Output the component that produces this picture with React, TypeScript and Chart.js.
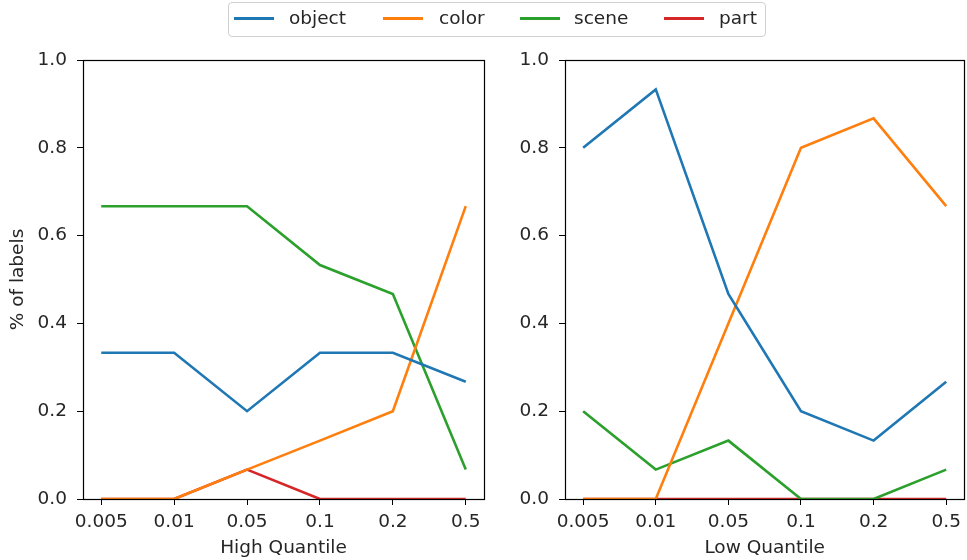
import React, { useEffect, useRef } from 'react';
import { Chart, registerables } from 'chart.js';

Chart.register(...registerables);

const quantiles = ['0.005', '0.01', '0.05', '0.1', '0.2', '0.5'];
const seriesNames = ['object', 'color', 'scene', 'part'];
const seriesColors = ['#1f77b4', '#ff7f0e', '#2ca02c', '#d62728'];

const highObject = [0.333, 0.333, 0.2, 0.333, 0.333, 0.267];
const highColor = [0, 0, 0.067, 0.133, 0.2, 0.667];
const highScene = [0.667, 0.667, 0.667, 0.533, 0.467, 0.067];
const highPart = [0, 0, 0.067, 0, 0, 0];

const lowObject = [0.8, 0.933, 0.467, 0.2, 0.133, 0.267];
const lowColor = [0, 0, 0.4, 0.8, 0.867, 0.667];
const lowScene = [0.2, 0.067, 0.133, 0, 0, 0.067];
const lowPart = [0, 0, 0, 0, 0, 0];

const yTickValues = [0, 0.2, 0.4, 0.6, 0.8, 1.0];

const FONT = 'DejaVu Sans';
const FS = 18.5;
const TEXT = '#262626';

const framePlugin = {
  id: 'frame',
  afterDatasetsDraw(chart: any) {
    const { ctx, chartArea } = chart;
    const { left, top, right, bottom } = chartArea;
    ctx.save();
    ctx.strokeStyle = '#000';
    ctx.lineWidth = 1.2;
    ctx.strokeRect(Math.round(left) + 0.5, Math.round(top) + 0.5, Math.round(right - left), Math.round(bottom - top));
    ctx.restore();
  },
};

function makeConfig(series: number[][], xTitle: string, yTitle: string | null, yWidth: number, padRight: number) {
  return {
    type: 'line' as const,
    data: {
      datasets: series.map((vals, si) => ({
        label: seriesNames[si],
        data: vals.map((v, i) => ({ x: i, y: v })),
        borderColor: seriesColors[si],
        backgroundColor: seriesColors[si],
        borderWidth: 2.6,
        pointRadius: 0,
        tension: 0,
        fill: false,
      })),
    },
    options: {
      responsive: false,
      animation: false as const,
      layout: { padding: { left: 0, right: padRight, top: 60, bottom: 0 } },
      plugins: { legend: { display: false }, tooltip: { enabled: false } },
      scales: {
        x: {
          type: 'linear' as const,
          min: -0.25,
          max: 5.25,
          afterBuildTicks: (scale: any) => {
            scale.ticks = quantiles.map((_, i) => ({ value: i }));
          },
          afterFit: (scale: any) => {
            scale.height = 61;
          },
          ticks: {
            autoSkip: false,
            maxRotation: 0,
            padding: 6,
            color: TEXT,
            font: { family: FONT, size: FS },
            callback: (v: any) => quantiles[Math.round(Number(v))] ?? '',
          },
          grid: { display: true, drawOnChartArea: false, drawTicks: true, tickLength: 6, color: '#000', lineWidth: 1 },
          border: { display: false },
          title: {
            display: true,
            text: xTitle,
            color: TEXT,
            font: { family: FONT, size: FS },
            padding: { top: 0, bottom: 1 },
          },
        },
        y: {
          type: 'linear' as const,
          min: 0,
          max: 1,
          afterBuildTicks: (scale: any) => {
            scale.ticks = yTickValues.map((v) => ({ value: v }));
          },
          afterFit: (scale: any) => {
            scale.width = yWidth;
          },
          ticks: {
            padding: 10,
            color: TEXT,
            font: { family: FONT, size: FS },
            callback: (v: any) => Number(v).toFixed(1),
          },
          grid: { display: true, drawOnChartArea: false, drawTicks: true, tickLength: 6, color: '#000', lineWidth: 1 },
          border: { display: false },
          title: {
            display: !!yTitle,
            text: yTitle || '',
            color: TEXT,
            font: { family: FONT, size: FS },
            padding: { top: 7, bottom: 0 },
          },
        },
      },
    },
    plugins: [framePlugin],
  };
}

function Panel(props: { series: number[][]; xTitle: string; yTitle: string | null; left: number; width: number; yWidth: number; padRight: number }) {
  const ref = useRef<HTMLCanvasElement | null>(null);
  useEffect(() => {
    if (!ref.current) return;
    const chart = new Chart(ref.current, makeConfig(props.series, props.xTitle, props.yTitle, props.yWidth, props.padRight) as any);
    return () => chart.destroy();
  }, []);
  return (
    <canvas
      ref={ref}
      width={props.width}
      height={560}
      style={{ position: 'absolute', left: props.left, top: 0, width: props.width, height: 560 }}
    />
  );
}

function Legend() {
  const lineLefts = [5, 154, 291, 435];
  const textLefts = [60, 210, 345, 490];
  return (
    <div
      style={{
        position: 'absolute',
        left: 228,
        top: 2,
        width: 536,
        height: 33,
        border: '1px solid #d0d0d0',
        borderRadius: 4,
        background: 'rgba(255,255,255,0.8)',
        fontFamily: FONT,
        fontSize: FS,
        color: TEXT,
      }}
    >
      {seriesNames.map((name, i) => (
        <React.Fragment key={name}>
          <div
            style={{
              position: 'absolute',
              left: lineLefts[i],
              top: 14,
              width: 40,
              height: 2.6,
              background: seriesColors[i],
            }}
          />
          <div style={{ position: 'absolute', left: textLefts[i], top: 3, lineHeight: '24px', whiteSpace: 'nowrap' }}>{name}</div>
        </React.Fragment>
      ))}
    </div>
  );
}

export default function App() {
  return (
    <div style={{ position: 'absolute', left: 0, top: 0, width: 967, height: 560, background: '#fff', overflow: 'hidden' }}>
      <Panel series={[highObject, highColor, highScene, highPart]} xTitle="High Quantile" yTitle="% of labels" left={0} width={500} yWidth={83} padRight={16} />
      <Panel series={[lowObject, lowColor, lowScene, lowPart]} xTitle="Low Quantile" yTitle={null} left={480} width={487} yWidth={85} padRight={2} />
      <Legend />
    </div>
  );
}
